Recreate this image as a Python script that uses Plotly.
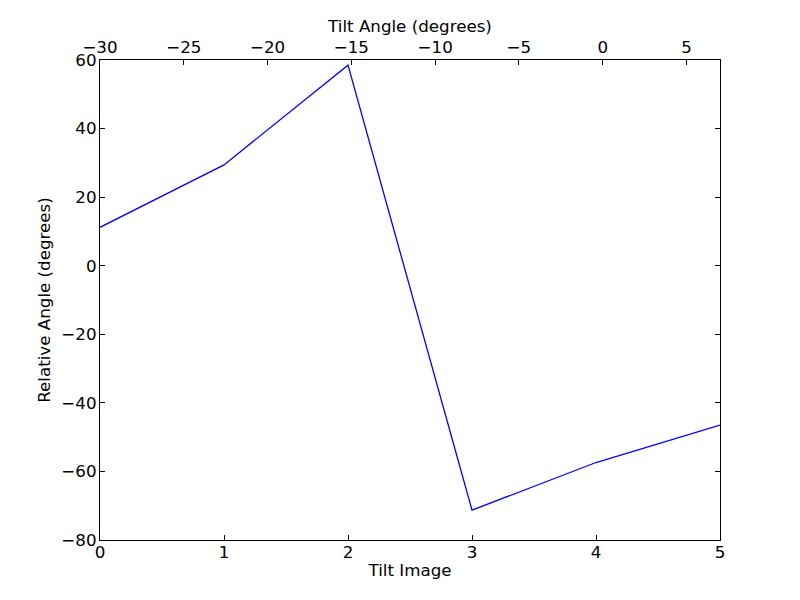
import plotly.graph_objects as go

tilt_image = [0, 1, 2, 3, 4, 5]
relative_angle = [11.2, 29.4, 58.5, -71.3, -57.4, -46.5]
tilt_angle_range = [-30, 7]
bottom_ticks = [0, 1, 2, 3, 4, 5]
top_ticks = [-30, -25, -20, -15, -10, -5, 0, 5]
y_ticks = [-80, -60, -40, -20, 0, 20, 40, 60]

font = dict(family="DejaVu Sans", size=16.7, color="black")


def minus(vals):
    return [str(v).replace("-", "\u2212") for v in vals]


fig = go.Figure()
fig.add_trace(go.Scatter(x=tilt_image, y=relative_angle, mode="lines",
                         line=dict(color="#0000ff", width=1.3), showlegend=False,
                         xaxis="x", yaxis="y"))
# invisible trace that attaches the top (tilt angle) axis
fig.add_trace(go.Scatter(x=tilt_angle_range, y=[0, 0], mode="markers",
                         marker=dict(opacity=0), showlegend=False,
                         hoverinfo="skip", xaxis="x2", yaxis="y"))

fig.update_layout(
    width=800, height=600,
    margin=dict(l=92, r=88, t=52, b=68),
    paper_bgcolor="white", plot_bgcolor="white",
    font=font,
    xaxis=dict(range=[0, 5], tickvals=bottom_ticks, ticks="inside", ticklen=5,
               tickcolor="black", showline=True, linecolor="black", linewidth=1.3,
               showgrid=False, zeroline=False, mirror=False, automargin=False,
               ticklabelstandoff=-3,
               title=dict(text="Tilt Image", font=font, standoff=3)),
    xaxis2=dict(range=[-30, 7], tickvals=top_ticks, ticktext=minus(top_ticks),
                overlaying="x", side="top", anchor="y",
                ticks="inside", ticklen=5, tickcolor="black",
                showline=True, linecolor="black", linewidth=1.3,
                showgrid=False, zeroline=False, automargin=False,
                ticklabelstandoff=-1,
                title=dict(text="Tilt Angle (degrees)", font=font, standoff=0)),
    yaxis=dict(range=[-80, 60], tickvals=y_ticks, ticktext=minus(y_ticks),
               ticks="inside", ticklen=5, tickcolor="black",
               showline=True, linecolor="black", linewidth=1.3, mirror="ticks",
               showgrid=False, zeroline=False, automargin=False,
               ticklabelstandoff=-1,
               title=dict(text="Relative Angle (degrees)", font=font, standoff=6)),
)

fig.write_html("out.html")
